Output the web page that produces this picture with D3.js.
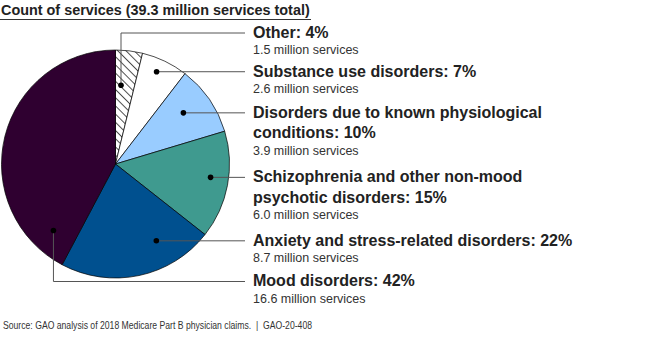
<!DOCTYPE html>
<html><head><meta charset="utf-8">
<script src="https://cdn.jsdelivr.net/npm/d3@7"></script>
<style>body{margin:0;background:#fff}svg{display:block}</style>
</head><body>
<svg id="c" width="650" height="338"></svg>
<script>
const categories = ["Other", "Substance use disorders", "Disorders due to known physiological conditions", "Schizophrenia and other non-mood psychotic disorders", "Anxiety and stress-related disorders", "Mood disorders"];
const labelLines = [["Other: 4%"], ["Substance use disorders: 7%"], ["Disorders due to known physiological", "conditions: 10%"], ["Schizophrenia and other non-mood", "psychotic disorders: 15%"], ["Anxiety and stress-related disorders: 22%"], ["Mood disorders: 42%"]];
const services = [1.5, 2.6, 3.9, 6.0, 8.7, 16.6];
const serviceLabels = ["1.5 million services", "2.6 million services", "3.9 million services", "6.0 million services", "8.7 million services", "16.6 million services"];
const titleText = "Count of services (39.3 million services total)";
const sourceText = "Source: GAO analysis of 2018 Medicare Part B physician claims.  |  GAO-20-408";

const colors = ["url(#hatch)", "#ffffff", "#99ccff", "#3f9a8f", "#00508f", "#2f0030"];
// layout: dot polar position (deg clockwise from top, radius px) and leader y
const dotPolar = [[4, 79], [24, 101], [53, 85], [98, 96], [152, 87], [223, 91]];
const leaderY = [33, null, null, null, null, 281.5];

const svg = d3.select("#c");
const defs = svg.append("defs");
const hp = 5.8;
const pat = defs.append("pattern").attr("id", "hatch").attr("patternUnits", "userSpaceOnUse")
  .attr("width", hp).attr("height", hp).attr("patternTransform", "rotate(-45)");
pat.append("rect").attr("width", hp).attr("height", hp).attr("fill", "#fff");
pat.append("line").attr("x1", 0.5).attr("y1", 0).attr("x2", 0.5).attr("y2", hp).attr("stroke", "#222").attr("stroke-width", 0.8);

// title
svg.append("text").attr("x", 1).attr("y", 15).text(titleText)
  .attr("font-family", "Liberation Sans, Arial, sans-serif").attr("font-weight", "bold")
  .attr("font-size", "14.4px").attr("fill", "#222");
svg.append("line").attr("x1", 0).attr("x2", 311).attr("y1", 19.5).attr("y2", 19.5)
  .attr("stroke", "#333").attr("stroke-width", 1);

const cx = 115.5, cy = 164, R = 114;
const g = svg.append("g").attr("transform", `translate(${cx},${cy})`);
const pie = d3.pie().sort(null).value(d => d)(services);
const arc = d3.arc().innerRadius(0).outerRadius(R);
g.selectAll("path").data(pie).join("path")
  .attr("d", arc).attr("fill", (d, i) => colors[i])
  .attr("stroke", "#000").attr("stroke-width", 0.7);

const lineX = 245, textX = 253;
const rad = Math.PI / 180;
const dots = dotPolar.map(([a, r]) => [cx + Math.sin(a * rad) * r, cy - Math.cos(a * rad) * r]);

dots.forEach((p, i) => {
  const ly = leaderY[i] == null ? p[1] : leaderY[i];
  const pts = leaderY[i] == null ? [[p[0], ly], [lineX, ly]] : [[p[0], p[1]], [p[0], ly], [lineX, ly]];
  svg.append("path").attr("d", d3.line()(pts)).attr("fill", "none")
    .attr("stroke", "#555").attr("stroke-width", 1);
});
dots.forEach(p => {
  svg.append("circle").attr("cx", p[0]).attr("cy", p[1]).attr("r", 2.8).attr("fill", "#000");
});

// labels
dots.forEach((p, i) => {
  const ly = leaderY[i] == null ? p[1] : leaderY[i];
  let base = ly + 4.8;
  labelLines[i].forEach((t, j) => {
    svg.append("text").attr("x", textX).attr("y", base + j * 20.5).text(t)
      .attr("font-family", "Liberation Sans, Arial, sans-serif").attr("font-weight", "bold")
      .attr("font-size", "16px").attr("fill", "#222");
  });
  svg.append("text").attr("x", textX).attr("y", base + (labelLines[i].length - 1) * 20.5 + 16.5)
    .text(serviceLabels[i])
    .attr("font-family", "Liberation Sans, Arial, sans-serif")
    .attr("font-size", "12.5px").attr("fill", "#333");
});

svg.append("text").attr("x", 3).attr("y", 328.5).text(sourceText)
  .attr("font-family", "Liberation Sans Narrow, Arial Narrow, Liberation Sans, sans-serif")
  .attr("font-size", "11.5px").attr("fill", "#333")
  .attr("textLength", 309).attr("lengthAdjust", "spacingAndGlyphs")
  .style("white-space", "pre");
</script>
</body></html>
